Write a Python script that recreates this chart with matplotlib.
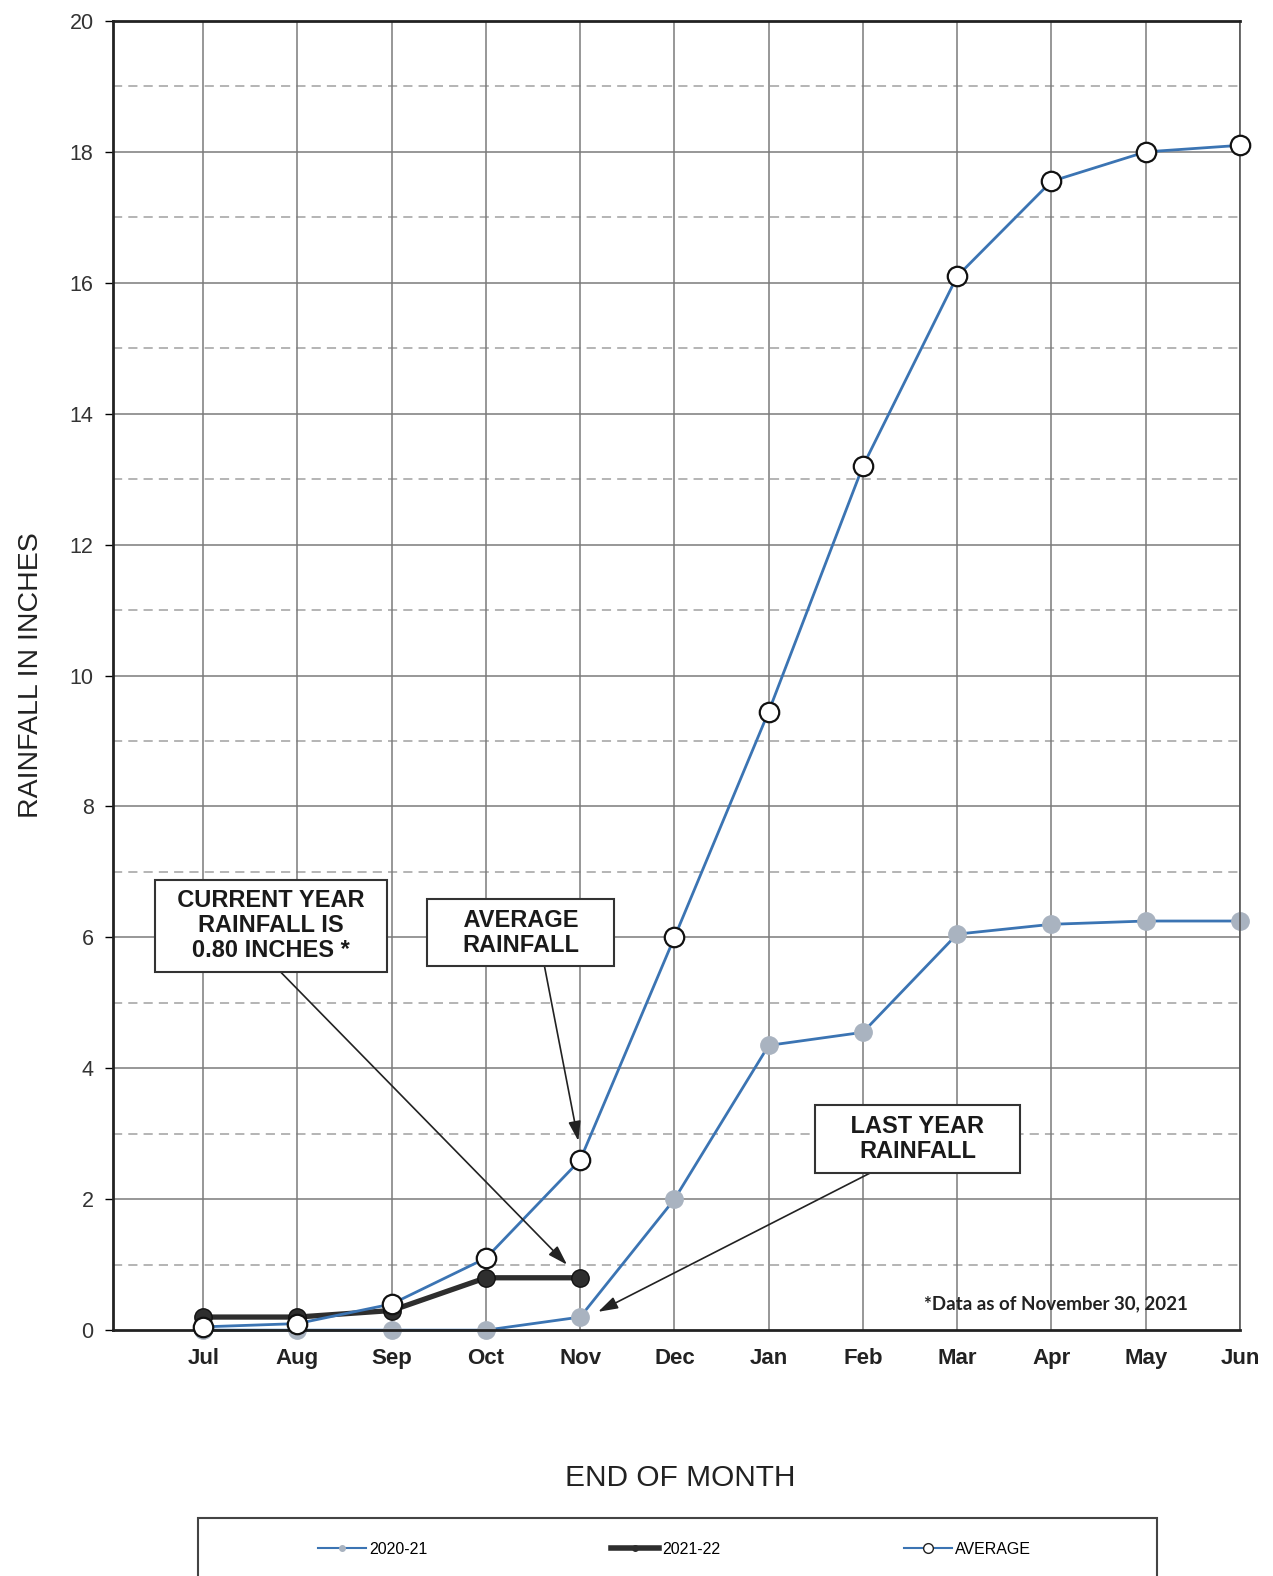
import matplotlib.pyplot as plt
from matplotlib.lines import Line2D
from matplotlib.patches import Rectangle

plt.rcParams['font.family'] = ['Liberation Sans', 'DejaVu Sans']

months = ["Jul", "Aug", "Sep", "Oct", "Nov", "Dec", "Jan", "Feb", "Mar", "Apr", "May", "Jun"]
rain_2020_21 = [0.0, 0.0, 0.0, 0.0, 0.2, 2.0, 4.35, 4.55, 6.05, 6.2, 6.25, 6.25]
rain_2021_22 = [0.2, 0.2, 0.3, 0.8, 0.8]
rain_average = [0.05, 0.1, 0.4, 1.1, 2.6, 6.0, 9.45, 13.2, 16.1, 17.55, 18.0, 18.1]

BLUE = "#3b74b3"
GREY_MK = "#a9b3c0"
DARK = "#2e2e2e"
NB = "\u00a0"  # non-breaking space, keeps box padding

fig = plt.figure(figsize=(12.73, 15.76), dpi=100)
ax = fig.add_axes([0.0888, 0.156, 0.8852, 0.8307])

x = list(range(len(months)))

# grid: solid at even values, dashed at odd
for v in range(2, 20, 2):
    ax.axhline(v, color="#7a7a7a", lw=1.1, zorder=0)
for v in range(1, 20, 2):
    ax.axhline(v, color="#a0a0a0", lw=1.1, ls=(0, (6, 4)), zorder=0)
for xi in x:
    ax.axvline(xi, color="#7a7a7a", lw=1.1, zorder=0)

ax.plot(x, rain_2020_21, color=BLUE, lw=2, marker="o", ms=12.5,
        mfc=GREY_MK, mec=GREY_MK, zorder=2, clip_on=False)
ax.plot(x[:len(rain_2021_22)], rain_2021_22, color=DARK, lw=3.8, marker="o", ms=12.5,
        mfc=DARK, mec="#111111", zorder=3, clip_on=False)
ax.plot(x, rain_average, color=BLUE, lw=2, marker="o", ms=14,
        mfc="white", mec="#111111", mew=1.6, zorder=4, clip_on=False)

ax.set_xlim(-0.957, 11.0)
ax.set_ylim(0, 20)
ax.set_yticks(range(0, 21, 2))
ax.set_xticks(x)
ax.set_xticklabels(months, fontsize=16, fontweight="bold", color="#222222")
ax.tick_params(axis="x", length=0, pad=13)
ax.tick_params(axis="y", length=6, width=1, labelsize=15.5, labelcolor="#333333", pad=8)

for side in ["left", "bottom", "top"]:
    ax.spines[side].set_linewidth(2)
    ax.spines[side].set_color("#222222")
ax.spines["right"].set_linewidth(1.2)
ax.spines["right"].set_color("#555555")

ax.set_ylabel("RAINFALL IN INCHES", fontsize=20.5, color="#222222", labelpad=18)
fig.text(0.534, 0.0625, "END OF MONTH", fontsize=21.5, ha="center", va="center", color="#222222")

box = dict(boxstyle="square,pad=0.4", fc="white", ec="#333333", lw=1.5)
arrow = dict(arrowstyle="-|>,head_length=0.7,head_width=0.22", color="#222222", lw=1.2,
             shrinkA=0, shrinkB=0)
txt = dict(ha="center", va="center", fontsize=17, fontweight="bold", linespacing=1.12,
           color="#1a1a1a", bbox=box, zorder=6)

ax.annotate(NB * 2 + "CURRENT YEAR" + NB * 2 + "\nRAINFALL IS\n0.80 INCHES *",
            xy=(3.86, 1.0), xytext=(0.72, 6.18),
            arrowprops=dict(arrow, relpos=(0.5, 0.0)), **txt)
ax.annotate(NB * 4 + "AVERAGE" + NB * 4 + "\nRAINFALL",
            xy=(3.98, 2.89), xytext=(3.37, 6.07),
            arrowprops=dict(arrow, relpos=(0.63, 0.0)), **txt)
ax.annotate(NB * 4 + "LAST YEAR" + NB * 4 + "\nRAINFALL",
            xy=(4.19, 0.28), xytext=(7.58, 2.92),
            arrowprops=dict(arrow, relpos=(0.35, 0.0)), **txt)

ax.text(9.05, 0.41, "*Data as of November 30, 2021", fontsize=13.5, fontweight="bold",
        family="Lato", ha="center", va="center", color="#222222")

# legend with its own frame drawn separately
fig.patches.append(Rectangle((0.1555, -0.015), 0.7533, 0.0518, transform=fig.transFigure,
                             fill=False, ec="#444444", lw=1.5))
handles = [
    Line2D([], [], color=BLUE, lw=1.5, marker="o", ms=4, mfc=GREY_MK, mec=GREY_MK),
    Line2D([], [], color=DARK, lw=4, marker="o", ms=4, mfc=DARK, mec=DARK),
    Line2D([], [], color=BLUE, lw=1.5, marker="o", ms=7, mfc="white", mec="#222222"),
]
fig.legend(handles, ["2020-21", "2021-22", "AVERAGE"], loc="center", ncol=3,
           bbox_to_anchor=(0.53, 0.017), frameon=False, fontsize=11.5,
           handlelength=3, handletextpad=0.2, columnspacing=11.5)

fig.savefig("out.png", dpi=100)
